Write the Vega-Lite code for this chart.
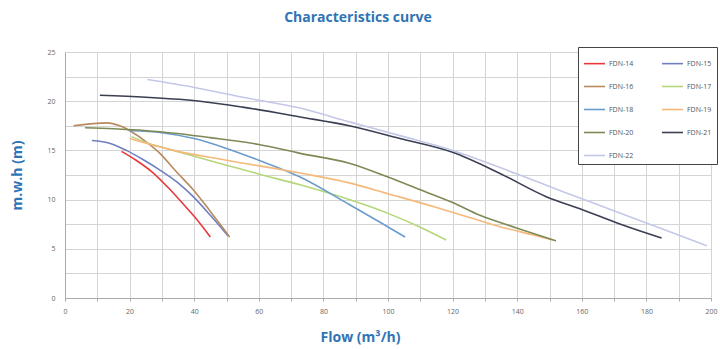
{
  "$schema": "https://vega.github.io/schema/vega-lite/v6.json",
  "autosize": "none",
  "width": 646,
  "height": 246,
  "padding": {"left": 65, "top": 52, "right": 9, "bottom": 51},
  "background": "white",
  "title": {"text": "Characteristics curve", "fontSize": 14, "font": "Open Sans", "fontWeight": "bold", "color": "#2f74b5", "offset": 22, "anchor": "middle", "dx": -30},
  "config": {"view": {"stroke": null}, "font": "Open Sans"},
  "data": {"values": [
    {"s":"FDN-14","q":17.5,"h":14.9},{"s":"FDN-14","q":22,"h":14.0},{"s":"FDN-14","q":27,"h":12.8},{"s":"FDN-14","q":32,"h":11.2},{"s":"FDN-14","q":37,"h":9.4},{"s":"FDN-14","q":41,"h":7.9},{"s":"FDN-14","q":45,"h":6.2},
    {"s":"FDN-15","q":8.3,"h":16.0},{"s":"FDN-15","q":14,"h":15.7},{"s":"FDN-15","q":19,"h":15.0},{"s":"FDN-15","q":24,"h":14.1},{"s":"FDN-15","q":29.4,"h":13.0},{"s":"FDN-15","q":35,"h":11.7},{"s":"FDN-15","q":39.7,"h":10.3},{"s":"FDN-15","q":45,"h":8.4},{"s":"FDN-15","q":50.5,"h":6.3},
    {"s":"FDN-16","q":2.6,"h":17.5},{"s":"FDN-16","q":8,"h":17.7},{"s":"FDN-16","q":12.9,"h":17.8},{"s":"FDN-16","q":17,"h":17.5},{"s":"FDN-16","q":20.6,"h":16.9},{"s":"FDN-16","q":25,"h":15.9},{"s":"FDN-16","q":29.4,"h":14.7},{"s":"FDN-16","q":34,"h":13.0},{"s":"FDN-16","q":39.7,"h":11.0},{"s":"FDN-16","q":45,"h":8.8},{"s":"FDN-16","q":51,"h":6.2},
    {"s":"FDN-17","q":20.6,"h":16.4},{"s":"FDN-17","q":26,"h":15.7},{"s":"FDN-17","q":31.5,"h":15.2},{"s":"FDN-17","q":40,"h":14.4},{"s":"FDN-17","q":50,"h":13.5},{"s":"FDN-17","q":60,"h":12.6},{"s":"FDN-17","q":72.8,"h":11.5},{"s":"FDN-17","q":88,"h":10.0},{"s":"FDN-17","q":100,"h":8.6},{"s":"FDN-17","q":110,"h":7.2},{"s":"FDN-17","q":118,"h":5.9},
    {"s":"FDN-18","q":20,"h":17.0},{"s":"FDN-18","q":30,"h":16.8},{"s":"FDN-18","q":40,"h":16.2},{"s":"FDN-18","q":50,"h":15.2},{"s":"FDN-18","q":60,"h":14.0},{"s":"FDN-18","q":72.8,"h":12.3},{"s":"FDN-18","q":88,"h":9.5},{"s":"FDN-18","q":97,"h":7.8},{"s":"FDN-18","q":105.3,"h":6.2},
    {"s":"FDN-19","q":20,"h":16.2},{"s":"FDN-19","q":33.5,"h":15.0},{"s":"FDN-19","q":50,"h":14.0},{"s":"FDN-19","q":72.8,"h":12.7},{"s":"FDN-19","q":88,"h":11.7},{"s":"FDN-19","q":100,"h":10.6},{"s":"FDN-19","q":114,"h":9.3},{"s":"FDN-19","q":125,"h":8.2},{"s":"FDN-19","q":134.7,"h":7.25},{"s":"FDN-19","q":145,"h":6.4},{"s":"FDN-19","q":151,"h":5.9},
    {"s":"FDN-20","q":6.2,"h":17.3},{"s":"FDN-20","q":15,"h":17.2},{"s":"FDN-20","q":29.4,"h":16.9},{"s":"FDN-20","q":45,"h":16.3},{"s":"FDN-20","q":60,"h":15.6},{"s":"FDN-20","q":72.8,"h":14.7},{"s":"FDN-20","q":88,"h":13.7},{"s":"FDN-20","q":100,"h":12.3},{"s":"FDN-20","q":110,"h":11.0},{"s":"FDN-20","q":120,"h":9.7},{"s":"FDN-20","q":128.5,"h":8.4},{"s":"FDN-20","q":140,"h":7.1},{"s":"FDN-20","q":152,"h":5.8},
    {"s":"FDN-21","q":10.8,"h":20.6},{"s":"FDN-21","q":25,"h":20.4},{"s":"FDN-21","q":41.8,"h":20.0},{"s":"FDN-21","q":55,"h":19.4},{"s":"FDN-21","q":72.8,"h":18.4},{"s":"FDN-21","q":88,"h":17.5},{"s":"FDN-21","q":103.7,"h":16.2},{"s":"FDN-21","q":120,"h":14.8},{"s":"FDN-21","q":135,"h":12.6},{"s":"FDN-21","q":149,"h":10.3},{"s":"FDN-21","q":160,"h":9.0},{"s":"FDN-21","q":172,"h":7.5},{"s":"FDN-21","q":184.7,"h":6.1},
    {"s":"FDN-22","q":25.5,"h":22.2},{"s":"FDN-22","q":40,"h":21.4},{"s":"FDN-22","q":55,"h":20.4},{"s":"FDN-22","q":72.8,"h":19.3},{"s":"FDN-22","q":88,"h":17.9},{"s":"FDN-22","q":103.7,"h":16.5},{"s":"FDN-22","q":120,"h":15.0},{"s":"FDN-22","q":140,"h":12.6},{"s":"FDN-22","q":155,"h":10.7},{"s":"FDN-22","q":169.7,"h":8.9},{"s":"FDN-22","q":185,"h":7.0},{"s":"FDN-22","q":198.7,"h":5.3}
  ]},
  "mark": {"type": "line", "interpolate": "monotone", "strokeWidth": 1.6},
  "encoding": {
    "x": {"field": "q", "type": "quantitative", "scale": {"domain": [0, 200], "nice": false},
      "axis": {"title": "Flow (m³/h)", "titleColor": "#2f74b5", "titleFontSize": 14, "titleFontWeight": "bold", "titlePadding": 16, "titleX": 295, "titleAlign": "center",
        "values": [0,10,20,30,40,50,60,70,80,90,100,110,120,130,140,150,160,170,180,190,200],
        "labelExpr": "datum.value % 20 == 0 ? datum.label : ''", "labelFlush": false,
        "labelFontSize": 7, "labelColor": "#666", "labelPadding": 6,
        "gridColor": "#d4d4d4", "domainColor": "#aaa", "tickColor": "#aaa", "tickSize": 3}},
    "y": {"field": "h", "type": "quantitative", "scale": {"domain": [0, 25], "nice": false},
      "axis": {"title": "m.w.h (m)", "titleColor": "#2f74b5", "titleFontSize": 14, "titleFontWeight": "bold", "titlePadding": 22,
        "values": [0,2.5,5,7.5,10,12.5,15,17.5,20,22.5,25],
        "labelExpr": "datum.value % 5 == 0 ? datum.label : ''", "labelFlush": false,
        "labelFontSize": 7, "labelColor": "#666", "labelPadding": 10, "ticks": false,
        "gridColor": "#d4d4d4", "domainColor": "#aaa"}},
    "color": {"field": "s", "type": "nominal",
      "scale": {"domain": ["FDN-14","FDN-15","FDN-16","FDN-17","FDN-18","FDN-19","FDN-20","FDN-21","FDN-22"],
        "range": ["#e8383d","#6f7fc0","#b98a5e","#b5d67a","#6a9ccc","#f5b97a","#7d8a55","#3a3f52","#c4c8e8"]},
      "legend": {"title": null, "orient": "none", "legendX": 513, "legendY": -5, "direction": "horizontal", "columns": 2, "symbolType": "stroke", "symbolSize": 441, "symbolStrokeWidth": 1.6,
        "labelFontSize": 7, "labelColor": "#555", "labelOffset": 3, "strokeColor": "#444", "fillColor": "white", "padding": 5, "rowPadding": 8, "columnPadding": 24}}
  }
}
